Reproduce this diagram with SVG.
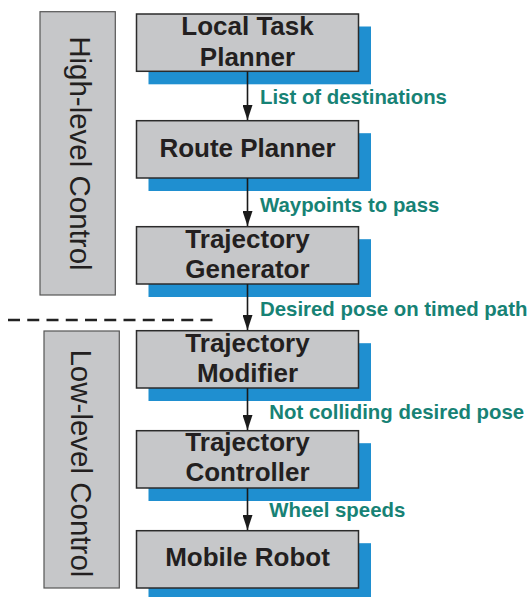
<svg xmlns="http://www.w3.org/2000/svg" width="530" height="597" viewBox="0 0 530 597">
<defs>
<style>
.shadow{fill:#1f8fd0;}
.box{fill:#c6c7c9;stroke:#2b2b2b;stroke-width:1.5;}
.group{fill:#c6c7c9;stroke:#555;stroke-width:1.2;}
.nt{font-family:"Liberation Sans",Arial,sans-serif;font-weight:bold;font-size:26px;fill:#231f20;text-anchor:middle;}
.gt{font-family:"Liberation Sans",Arial,sans-serif;font-size:29.5px;fill:#231f20;text-anchor:middle;}
.el{font-family:"Liberation Sans",Arial,sans-serif;font-weight:bold;font-size:20.4px;fill:#178275;}
.conn{stroke:#1a1a1a;stroke-width:1.6;fill:none;marker-end:url(#ah);}
</style>
<marker id="ah" markerUnits="userSpaceOnUse" viewBox="0 0 15 10" refX="15" refY="5" markerWidth="15" markerHeight="10" orient="auto">
<path d="M0,0 L15,5 L0,10 Z" fill="#1a1a1a"/>
</marker>
</defs>

<g id="high-level">
<rect class="group" x="40" y="11.7" width="75.3" height="283.3"/>
<text class="gt" transform="translate(69.5,153.4) rotate(90)">High-level Control</text>
</g>
<g id="low-level">
<rect class="group" x="44" y="331" width="75.3" height="257"/>
<text class="gt" transform="translate(70.7,463.4) rotate(90)">Low-level Control</text>
</g>

<line x1="8" y1="320" x2="213" y2="320" stroke="#222" stroke-width="2.6" stroke-dasharray="12 7.25"/>

<g id="local-task-planner">
<rect class="shadow" x="148.5" y="26.5" width="222.5" height="57.8"/>
<rect class="box" x="136.5" y="14" width="222" height="57.3"/>
<text class="nt" x="247.5" y="35.3">Local Task</text>
<text class="nt" x="247.5" y="66.3">Planner</text>
</g>
<g id="route-planner">
<rect class="shadow" x="148.5" y="133.2" width="222.5" height="57.8"/>
<rect class="box" x="136.5" y="120.7" width="222" height="57.3"/>
<text class="nt" x="247.5" y="157.3">Route Planner</text>
</g>
<g id="trajectory-generator">
<rect class="shadow" x="148.5" y="239.2" width="222.5" height="57.8"/>
<rect class="box" x="136.5" y="226.7" width="222" height="57.3"/>
<text class="nt" x="247.5" y="247.7">Trajectory</text>
<text class="nt" x="247.5" y="277.7">Generator</text>
</g>
<g id="trajectory-modifier">
<rect class="shadow" x="148.5" y="343.2" width="222.5" height="57.8"/>
<rect class="box" x="136.5" y="330.7" width="222" height="57.3"/>
<text class="nt" x="247.5" y="351.5">Trajectory</text>
<text class="nt" x="247.5" y="381.7">Modifier</text>
</g>
<g id="trajectory-controller">
<rect class="shadow" x="148.5" y="443.2" width="222.5" height="57.8"/>
<rect class="box" x="136.5" y="430.7" width="222" height="57.3"/>
<text class="nt" x="247.5" y="451.3">Trajectory</text>
<text class="nt" x="247.5" y="481">Controller</text>
</g>
<g id="mobile-robot">
<rect class="shadow" x="148.5" y="543.2" width="222.5" height="57.8"/>
<rect class="box" x="136.5" y="530.7" width="222" height="57.3"/>
<text class="nt" x="247.5" y="565.7">Mobile Robot</text>
</g>

<g id="connectors">
<line class="conn" x1="247.5" y1="71.3" x2="247.5" y2="120"/>
<line class="conn" x1="247.5" y1="178" x2="247.5" y2="226"/>
<line class="conn" x1="247.5" y1="284" x2="247.5" y2="330"/>
<line class="conn" x1="247.5" y1="388" x2="247.5" y2="430"/>
<line class="conn" x1="247.5" y1="488" x2="247.5" y2="530"/>
<text class="el" x="260" y="104.3">List of destinations</text>
<text class="el" x="260" y="211.7">Waypoints to pass</text>
<text class="el" x="260" y="316">Desired pose on timed path</text>
<text class="el" x="269.3" y="419">Not colliding desired pose</text>
<text class="el" x="269.3" y="517.3">Wheel speeds</text>
</g>
</svg>
